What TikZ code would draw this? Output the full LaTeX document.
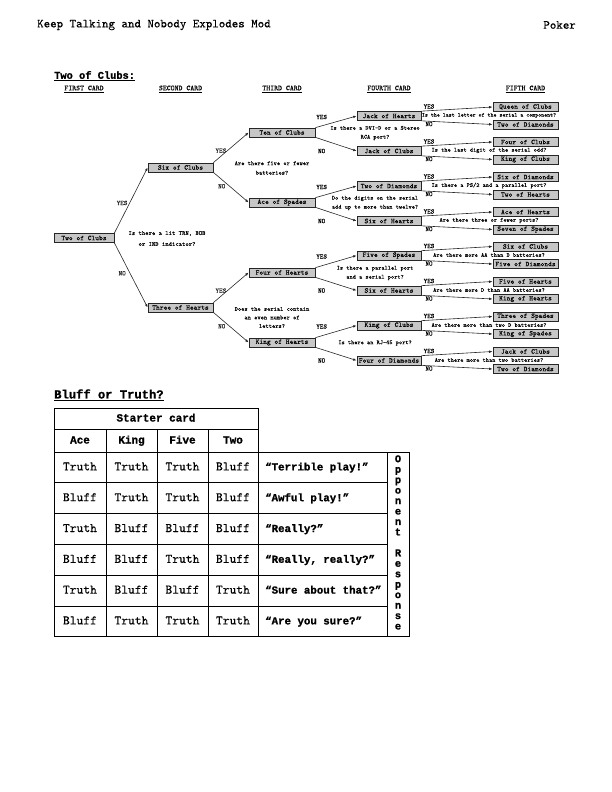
\documentclass[tikz,border=0pt]{standalone}
\usepackage{fontspec}
\usetikzlibrary{arrows.meta,calc}
\setmonofont{lmmono10-regular.otf}[FakeBold=0.2]
\renewcommand{\familydefault}{\ttdefault}
\newfontfamily\heavy{Liberation Mono}[BoldFeatures={FakeBold=1.2}]

\tikzset{
  card/.style={draw=black!85, fill=black!22, line width=0.7pt, minimum width=65bp,
    minimum height=9bp, inner sep=0pt, font=\fontsize{7.2}{8}\selectfont},
  ask/.style={align=center, inner sep=0pt, font=\fontsize{6.1}{9}\selectfont},
  yn/.style={inner sep=0pt, font=\fontsize{6.8}{7}\selectfont},
  go/.style={-{Latex[length=3.5bp,width=2.6bp]}, line width=0.6pt, black!85},
  colhead/.style={inner sep=0pt, font=\fontsize{7.5}{8}\selectfont},
  cell/.style={inner sep=0pt, text height=8bp, text depth=2bp, font=\fontsize{13}{14}\selectfont},
  hcell/.style={cell, font=\heavy\bfseries\fontsize{11}{13}\selectfont},
  said/.style={hcell, anchor=west, font=\heavy\bfseries\fontsize{10.8}{13}\selectfont},
  vert/.style={inner sep=0pt, text height=6.5bp, text depth=2bp, font=\heavy\bfseries\fontsize{10.5}{12}\selectfont},
  grid/.style={line width=0.8pt},
}

\begin{document}
\begin{tikzpicture}[x=1bp,y=-1bp]
\useasboundingbox (0,0) rectangle (612,792);

% page heading
\node[anchor=west, inner sep=0pt, font=\fontsize{12.4}{14}\selectfont] (mod) at (37,25) {Keep Talking and Nobody Explodes Mod};
\node[anchor=east, inner sep=0pt, font=\fontsize{12.4}{14}\selectfont] (poker) at (576,25) {Poker};

\node[anchor=west, inner sep=0pt, font=\heavy\bfseries\fontsize{10.4}{13}\selectfont] (clubs) at (54,76) {\underline{Two of Clubs:}};
\node[colhead] (c1) at (84,89) {\underline{FIRST CARD}};
\node[colhead] (c2) at (180.5,89) {\underline{SECOND CARD}};
\node[colhead] (c3) at (282,89) {\underline{THIRD CARD}};
\node[colhead] (c4) at (389,89) {\underline{FOURTH CARD}};
\node[colhead] (c5) at (525.5,89) {\underline{FIFTH CARD}};

% first three columns
\node[card, minimum width=60bp] (twoc) at (84,238) {Two of Clubs};
\node[card] (sixc) at (180.5,167.5) {Six of Clubs};
\node[card] (threeh) at (180.5,307.5) {Three of Hearts};
\node[card, minimum width=66bp] (tenc) at (282,132.5) {Ten of Clubs};
\node[card, minimum width=66bp] (aces) at (282,202.5) {Ace of Spades};
\node[card, minimum width=66bp] (fourh) at (282,272.5) {Four of Hearts};
\node[card, minimum width=66bp] (kingh) at (282,342.5) {King of Hearts};

\draw[go] (twoc.north east) -- node[yn, pos=0.46, left=2bp] (y1) {YES} (sixc.west);
\draw[go] (twoc.south east) -- node[yn, pos=0.47, left=4bp] (n1) {NO} (threeh.west);
\draw[go] (sixc.north east) -- node[yn, pos=0.4, left=1bp] (y2a) {YES} (tenc.west);
\draw[go] (sixc.south east) -- node[yn, pos=0.46, left=4bp] (n2a) {NO} (aces.west);
\draw[go] (threeh.north east) -- node[yn, pos=0.4, left=1bp] (y2b) {YES} (fourh.west);
\draw[go] (threeh.south east) -- node[yn, pos=0.46, left=4bp] (n2b) {NO} (kingh.west);

\node[ask, font=\fontsize{6.4}{11}\selectfont] (q1) at (167,238.5) {Is there a lit TRN, BOB\\or IND indicator?};
\node[ask, font=\fontsize{6.2}{9.5}\selectfont] (q2a) at (272,168) {Are there five or fewer\\batteries?};
\node[ask, font=\fontsize{6.2}{8.6}\selectfont] (q2b) at (272,317.5) {Does the serial contain\\an even number of\\letters?};
\node[ask] (q3a) at (375,133) {Is there a DVI-D or a Stereo\\RCA port?};
\node[ask] (q3b) at (375,203) {Do the digits on the serial\\add up to more than twelve?};
\node[ask] (q3c) at (375,273) {Is there a parallel port\\and a serial port?};
\node[ask] (q3d) at (375,343) {Is there an RJ-45 port?};

% fourth and fifth columns
\foreach \n/\y/\t/\a/\b/\q in {
  jackh/116/Jack of Hearts/Queen of Clubs/Two of Diamonds/{\fontsize{5.7}{7}\selectfont Is the last letter of the serial a component?},
  jackc/151/Jack of Clubs/Four of Clubs/King of Clubs/Is the last digit of the serial odd?,
  twod/186/Two of Diamonds/Six of Diamonds/Two of Hearts/{Is there a PS/2 and a parallel port?},
  sixh/221/Six of Hearts/Ace of Hearts/Seven of Spades/Are there three or fewer ports?,
  fives/255.5/Five of Spades/Six of Clubs/Five of Diamonds/Are there more AA than D batteries?,
  sixhb/290.5/Six of Hearts/Five of Hearts/King of Hearts/Are there more D than AA batteries?,
  kingc/325.5/King of Clubs/Three of Spades/King of Spades/Are there more than two D batteries?,
  fourd/360.5/Four of Diamonds/Jack of Clubs/Two of Diamonds/Are there more than two batteries?}
{
  \node[card, minimum width=64bp] (\n) at (389,\y) {\t};
  \node[card] (\n-y) at (525.5,\y-9) {\a};
  \node[card] (\n-n) at (525.5,\y+8.5) {\b};
  \draw[go] (\n.north east) -- (\n-y.west);
  \draw[go] (\n.south east) -- (\n-n.west);
  \node[yn] (\n-yl) at (429,\y-9.5) {YES};
  \node[yn] (\n-nl) at (429,\y+8) {NO};
  \node[ask] (\n-q) at (489,\y-0.5) {\q};
}

\foreach \p/\a/\b in {tenc/jackh/jackc, aces/twod/sixh, fourh/fives/sixhb, kingh/kingc/fourd}
{
  \draw[go] (\p.north east) -- (\a.west);
  \draw[go] (\p.south east) -- (\b.west);
  \node[yn] (\p-yl) at ($(\a.west)+(-35,1)$) {YES};
  \node[yn] (\p-nl) at ($(\b.west)+(-35,0)$) {NO};
}

% bluff or truth table
\node[anchor=west, inner sep=0pt, font=\heavy\bfseries\fontsize{12.2}{15}\selectfont] (bluff) at (54,395) {\underline{Bluff or Truth?}};

\draw[grid] (54,408) rectangle (258,636.8);
\draw[grid] (54,429) -- (258,429);
\draw[grid] (54,452) -- (409,452) -- (409,636.8) -- (258,636.8);
\draw[grid] (387,452) -- (387,636.8);
\foreach \x in {106,157,208} \draw[grid] (\x,429) -- (\x,636.8);
\foreach \y in {482.8,513.6,544.4,575.2,606} \draw[grid] (54,\y) -- (387,\y);

\node[hcell] (starter) at (156,418.5) {Starter card};
\foreach \x/\t in {80/Ace,131.5/King,182.5/Five,233/Two}
  \node[hcell] (h-\t) at (\x,440.5) {\t};

\foreach \a/\b/\c/\d/\r [count=\i] in {
  Truth/Truth/Truth/Bluff/“Terrible play!”,
  Bluff/Truth/Truth/Bluff/“Awful play!”,
  Truth/Bluff/Bluff/Bluff/“Really?”,
  Bluff/Bluff/Truth/Bluff/{“Really, really?”},
  Truth/Bluff/Bluff/Truth/“Sure about that?”,
  Bluff/Truth/Truth/Truth/“Are you sure?”}
{
  \pgfmathsetmacro\yy{467.4+30.8*(\i-1)}
  \node[cell] (r\i-a) at (80,\yy) {\a};
  \node[cell] (r\i-b) at (131.5,\yy) {\b};
  \node[cell] (r\i-c) at (182.5,\yy) {\c};
  \node[cell] (r\i-d) at (233,\yy) {\d};
  \node[said] (r\i-r) at (265,\yy) {\r};
}

\foreach \ch [count=\i] in {O,p,p,o,n,e,n,t,{},R,e,s,p,o,n,s,e}
  \node[vert] (v\i) at (398,460+10.45*\i-10.45) {\ch};

\end{tikzpicture}
\end{document}
